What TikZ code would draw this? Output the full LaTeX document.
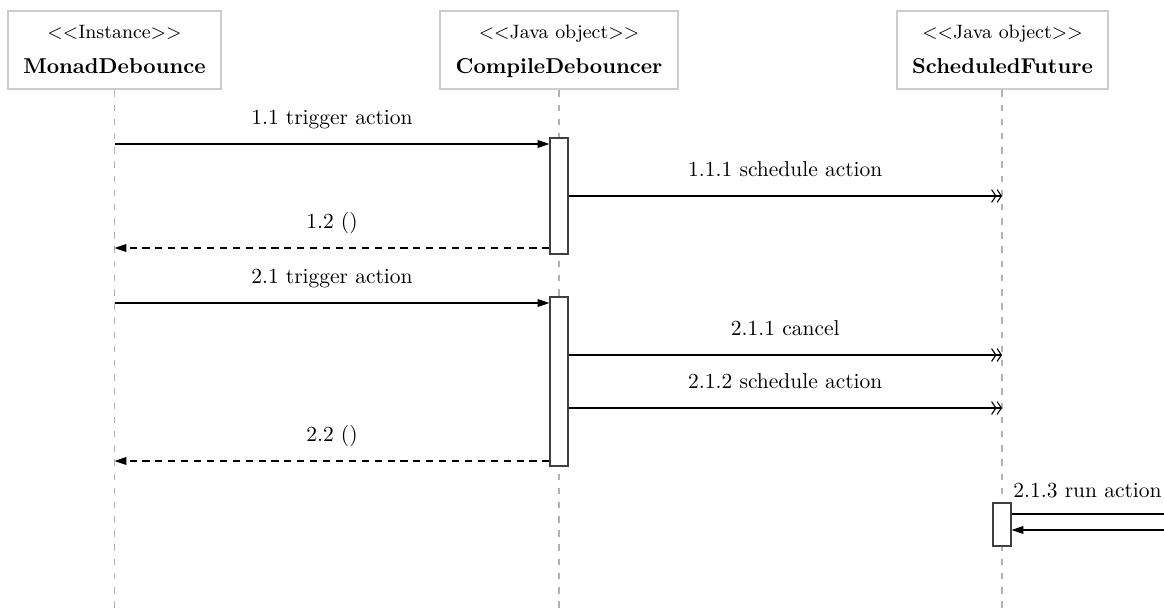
\documentclass[tikz,border=0pt]{standalone}
\usetikzlibrary{arrows.meta}
\def\pxu{0.4651pt}
\begin{document}
\begin{tikzpicture}[x=0.4651pt, y=-0.4651pt,
  objbox/.style={draw=black!20, line width=1.3pt, fill=white,
    minimum height=78*\pxu, inner sep=0pt},
  stereo/.style={anchor=base, font=\small, inner sep=0pt},
  objname/.style={anchor=base, font=\bfseries, inner sep=0pt},
  lifeline/.style={draw=black!30, line width=0.5pt, dash pattern=on 3pt off 3.6pt},
  activation/.style={draw=black!75, line width=0.5pt, fill=white,
    minimum width=18*\pxu, inner sep=0pt},
  sync/.style={line width=0.5pt, -{Triangle[length=5.5pt,width=3.6pt]}},
  async/.style={line width=0.5pt,
    -{Straight Barb[length=2pt,width=6pt]Straight Barb[length=2pt,width=6pt]}},
  reply/.style={line width=0.5pt, dash pattern=on 3.3pt off 2.7pt,
    -{Triangle[length=5.5pt,width=3.6pt]}},
  msglabel/.style={anchor=base, inner sep=0pt, yshift=9pt}]

\useasboundingbox (0,0) rectangle (1164,615);
\clip (0,0) rectangle (1164,615);

% object headers
\node[objbox, minimum width=213*\pxu] (md) at (114.5,50) {};
\node[objbox, minimum width=238*\pxu] (cd) at (559,50) {};
\node[objbox, minimum width=211*\pxu] (sf) at (1002.5,50) {};
\node[stereo]  (mdst) at (114.5,38) {$<<$Instance$>>$};
\node[objname] (mdnm) at (114.5,74) {MonadDebounce};
\node[stereo]  (cdst) at (559,38) {$<<$Java object$>>$};
\node[objname] (cdnm) at (559,74) {CompileDebouncer};
\node[stereo]  (sfst) at (1002.5,38) {$<<$Java object$>>$};
\node[objname] (sfnm) at (1002.5,74) {ScheduledFuture};

% lifelines
\coordinate (mdend) at (114.5,615);
\coordinate (cdend) at (559,615);
\coordinate (sfend) at (1002,615);
\draw[lifeline] (md.south) -- (mdend);
\draw[lifeline] (cd.south) -- (cdend);
\draw[lifeline] (sf.south -| sfend) -- (sfend);

% activations
\node[activation, minimum height=116*\pxu] (act1) at (559,196) {};
\node[activation, minimum height=169*\pxu] (act2) at (559,381.5) {};
\node[activation, minimum height=43*\pxu]  (act3) at (1002,524.5) {};

% points on the lifelines
\coordinate (m11) at (114.5,144);
\coordinate (m12) at (114.5,248);
\coordinate (m21) at (114.5,303);
\coordinate (m22) at (114.5,461);
\coordinate (s111) at (1002,196);
\coordinate (s211) at (1002,355);
\coordinate (s212) at (1002,408);
\coordinate (loopa) at (1200,514);
\coordinate (loopb) at (1200,530);

% first call
\draw[sync] (m11) -- (act1.west |- m11)
  node[msglabel, midway] {1.1 trigger action};
\draw[async] (act1.east |- s111) -- (s111)
  node[msglabel, midway] {1.1.1 schedule action};
\draw[reply] (act1.west |- m12) -- (m12)
  node[msglabel, midway] {1.2 ()};

% second call
\draw[sync] (m21) -- (act2.west |- m21)
  node[msglabel, midway] {2.1 trigger action};
\draw[async] (act2.east |- s211) -- (s211)
  node[msglabel, midway] {2.1.1 cancel};
\draw[async] (act2.east |- s212) -- (s212)
  node[msglabel, midway] {2.1.2 schedule action};
\draw[reply] (act2.west |- m22) -- (m22)
  node[msglabel, midway] {2.2 ()};

% scheduled run
\draw[sync] (act3.east |- loopa) -- (loopa) -- (loopb) -- (act3.east |- loopb);
\node[anchor=base west, inner sep=0pt] (runlbl) at (1013,497) {2.1.3 run action};
\end{tikzpicture}
\end{document}
